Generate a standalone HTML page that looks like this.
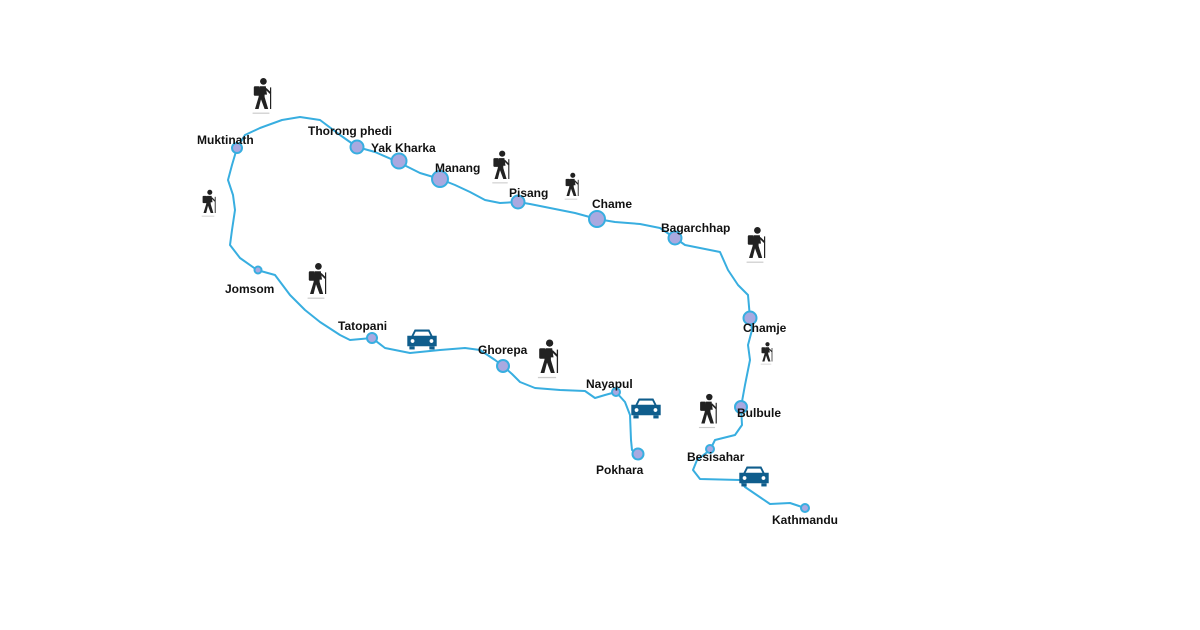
<!DOCTYPE html>
<html><head><meta charset="utf-8"><style>
body{margin:0;background:#fff}
svg{display:block}
text{font-family:"Liberation Sans",sans-serif;font-weight:bold;font-size:12px;fill:#111}
</style></head><body>
<svg width="1200" height="630" viewBox="0 0 1200 630">
<defs>
<g id="hk">
<circle cx="2" cy="-13" r="2.8" fill="#222"/>
<rect x="-6" y="-9" width="5" height="8" rx="1" fill="#222"/>
<path d="M-1,-9 L4,-9 L5,-2 L3,-2 L3,0 L6,10 L3,10 L0,2 L-2,10 L-5,10 L-2,0 Z" fill="#222"/>
<path d="M4,-7 L8,-3" stroke="#222" stroke-width="1.5"/>
<path d="M8,-8 L8,10" stroke="#222" stroke-width="1"/>
<rect x="-7" y="13" width="14" height="1" fill="#ccc"/>
</g>
<g id="car">
<path d="M-10,-4 L-7,-10 L7,-10 L10,-4 L14,-4 L14,6 L-14,6 L-14,-4 Z" fill="#0f5d8c"/>
<path d="M-6,-8 L6,-8 L8,-4 L-8,-4 Z" fill="#fff"/>
<rect x="-12" y="6" width="5" height="3" fill="#0f5d8c"/><rect x="7" y="6" width="5" height="3" fill="#0f5d8c"/>
<circle cx="-9" cy="1" r="1.8" fill="#fff"/><circle cx="9" cy="1" r="1.8" fill="#fff"/>
</g>
</defs>
<polyline fill="none" stroke="#38aee0" stroke-width="2" stroke-linejoin="round" points="805,508 790,503 770,504 745,487 740,480 700,479 693,470 697,460 710,450 715,440 735,435 742,425 741,407 745,385 750,360 748,345 752,330 750,318 748,295 738,285 728,270 720,252 700,248 685,245 675,238 660,228 640,224 615,222 597,219 575,213 550,208 530,204 518,202 500,203 485,200 470,192 455,185 440,179 420,173 398,162 375,152 357,147 340,135 320,120 300,117 282,120 260,128 245,135 237,148 232,165 228,180 233,195 235,210 232,230 230,245 240,258 257,270 275,275 290,295 305,310 320,322 340,335 350,340 372,338 385,348 410,353 440,350 465,348 480,350 495,360 503,366 512,374 520,382 535,388 560,390 585,391 595,398 605,395 616,392 625,402 630,415 631,440 632,450 638,455"/>
<g fill="#a9a9e0" stroke="#38aee0" stroke-width="2">
<circle cx="237" cy="148" r="5"/>
<circle cx="357" cy="147" r="6.5"/>
<circle cx="399" cy="161" r="7.5"/>
<circle cx="440" cy="179" r="8"/>
<circle cx="518" cy="202" r="6.5"/>
<circle cx="597" cy="219" r="8"/>
<circle cx="675" cy="238" r="6.5"/>
<circle cx="750" cy="318" r="6.5"/>
<circle cx="741" cy="407" r="6"/>
<circle cx="710" cy="449" r="4"/>
<circle cx="805" cy="508" r="4"/>
<circle cx="258" cy="270" r="3.5"/>
<circle cx="372" cy="338" r="5"/>
<circle cx="503" cy="366" r="6"/>
<circle cx="616" cy="392" r="4"/>
<circle cx="638" cy="454" r="5.5"/>
</g>
<g>
<text x="197" y="144">Muktinath</text>
<text x="308" y="135">Thorong phedi</text>
<text x="371" y="152">Yak Kharka</text>
<text x="435" y="172">Manang</text>
<text x="509" y="197">Pisang</text>
<text x="592" y="208">Chame</text>
<text x="661" y="232">Bagarchhap</text>
<text x="743" y="332">Chamje</text>
<text x="737" y="417">Bulbule</text>
<text x="687" y="461">Besisahar</text>
<text x="772" y="524">Kathmandu</text>
<text x="225" y="293">Jomsom</text>
<text x="338" y="330">Tatopani</text>
<text x="478" y="354">Ghorepa</text>
<text x="586" y="388">Nayapul</text>
<text x="596" y="474">Pokhara</text>
</g>
<use href="#hk" transform="translate(261,97) scale(1.2)"/>
<use href="#hk" transform="translate(208,204) scale(0.9)"/>
<use href="#hk" transform="translate(316,282) scale(1.2)"/>
<use href="#hk" transform="translate(500,168) scale(1.1)"/>
<use href="#hk" transform="translate(571,187) scale(0.9)"/>
<use href="#hk" transform="translate(755,246) scale(1.2)"/>
<use href="#hk" transform="translate(766,354) scale(0.75)"/>
<use href="#hk" transform="translate(547,360) scale(1.3)"/>
<use href="#hk" transform="translate(707,412) scale(1.15)"/>
<use href="#car" transform="translate(422,340) scale(1.05)"/>
<use href="#car" transform="translate(646,409) scale(1.05)"/>
<use href="#car" transform="translate(754,477) scale(1.05)"/>
</svg>
</body></html>
